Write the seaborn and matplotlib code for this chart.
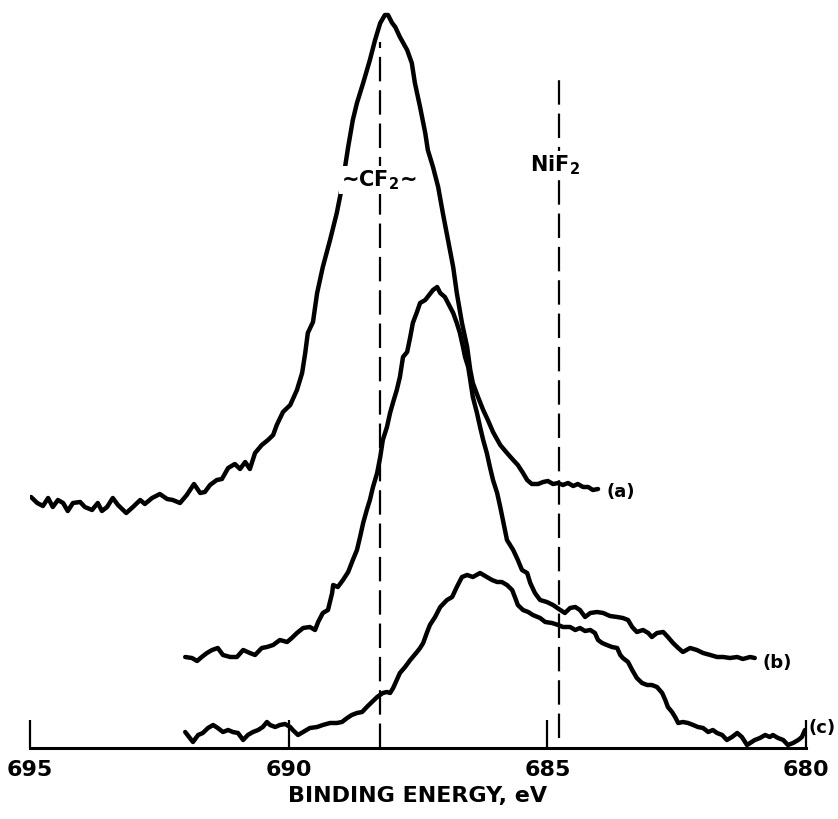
import matplotlib
matplotlib.use("Agg")
import matplotlib.pyplot as plt
import seaborn as sns
import pandas as pd

# ---- data (binding energy in eV, intensity in arbitrary units) ----
a_ev = [694.98, 694.86, 694.75, 694.65, 694.56, 694.46, 694.36, 694.27, 694.17, 694.03,
        693.94, 693.80, 693.69, 693.61, 693.51, 693.40, 693.30, 693.14, 693.01, 692.87,
        692.78, 692.64, 692.49, 692.35, 692.24, 692.10, 691.97, 691.83, 691.71, 691.62,
        691.52, 691.39, 691.29, 691.17, 691.04, 690.94, 690.84, 690.75, 690.65, 690.52,
        690.40, 690.30, 690.23, 690.11, 689.97, 689.84, 689.74, 689.68, 689.63, 689.53,
        689.45, 689.34, 689.20, 689.07, 688.97, 688.91, 688.85, 688.76, 688.68, 688.56,
        688.43, 688.33, 688.23, 688.14, 688.08, 688.00, 687.94, 687.85, 687.71, 687.62,
        687.56, 687.46, 687.36, 687.31, 687.21, 687.11, 687.02, 686.92, 686.82, 686.75,
        686.65, 686.55, 686.49, 686.44, 686.34, 686.24, 686.15, 686.05, 685.91, 685.78,
        685.66, 685.57, 685.47, 685.39, 685.30, 685.18, 685.08, 684.99, 684.89, 684.79,
        684.70, 684.60, 684.50, 684.41, 684.31, 684.21, 684.12, 684.02]
a_int = [251, 245, 242, 250, 241, 248, 245, 237, 245, 246,
         241, 238, 245, 237, 241, 250, 243, 235, 241, 248,
         244, 250, 254, 249, 248, 245, 253, 264, 255, 256,
         263, 268, 269, 280, 284, 279, 286, 279, 295, 303,
         308, 313, 323, 336, 343, 358, 375, 395, 415, 426,
         455, 481, 508, 535, 561, 581, 601, 628, 645, 665,
         688, 708, 725, 733, 733, 725, 721, 711, 698, 685,
         665, 641, 615, 598, 581, 561, 535, 508, 481, 455,
         425, 401, 378, 365, 351, 338, 328, 316, 303, 295,
         288, 283, 275, 268, 264, 264, 266, 267, 264, 265,
         263, 265, 262, 264, 261, 261, 258, 259]

b_ev = [692.00, 691.87, 691.77, 691.68, 691.58, 691.48, 691.37, 691.27, 691.13, 691.00,
        690.88, 690.75, 690.65, 690.52, 690.42, 690.30, 690.17, 690.03, 689.94, 689.84,
        689.72, 689.59, 689.49, 689.43, 689.34, 689.24, 689.16, 689.14, 689.05, 688.95,
        688.85, 688.76, 688.68, 688.62, 688.56, 688.49, 688.43, 688.37, 688.29, 688.23,
        688.18, 688.10, 688.04, 687.98, 687.91, 687.85, 687.79, 687.71, 687.65, 687.60,
        687.52, 687.46, 687.36, 687.21, 687.13, 687.07, 686.98, 686.88, 686.82, 686.75,
        686.69, 686.63, 686.59, 686.53, 686.49, 686.44, 686.36, 686.30, 686.24, 686.17,
        686.11, 686.05, 685.97, 685.91, 685.78, 685.66, 685.57, 685.49, 685.39, 685.33,
        685.24, 685.14, 685.01, 684.89, 684.75, 684.66, 684.56, 684.46, 684.37, 684.27,
        684.17, 684.04, 683.92, 683.79, 683.65, 683.54, 683.44, 683.36, 683.27, 683.15,
        683.05, 682.98, 682.88, 682.76, 682.67, 682.57, 682.47, 682.38, 682.24, 682.11,
        681.99, 681.85, 681.72, 681.60, 681.47, 681.33, 681.22, 681.08, 680.99]
b_int = [91, 90, 87, 91, 95, 98, 100, 93, 91, 91,
         98, 95, 93, 100, 101, 103, 108, 106, 110, 115,
         120, 121, 118, 126, 135, 138, 155, 163, 161, 168,
         176, 188, 198, 211, 225, 238, 248, 261, 275, 291,
         308, 321, 335, 346, 358, 371, 391, 396, 411, 425,
         436, 445, 448, 458, 461, 455, 451, 441, 435, 425,
         415, 401, 391, 381, 368, 351, 335, 321, 308, 295,
         281, 268, 255, 241, 208, 198, 188, 178, 175, 165,
         155, 148, 146, 143, 138, 135, 140, 141, 138, 131,
         135, 136, 135, 132, 131, 130, 128, 121, 116, 118,
         115, 111, 115, 116, 111, 105, 100, 96, 100, 98,
         95, 93, 91, 91, 90, 91, 89, 91, 90]

c_ev = [692.00, 691.91, 691.85, 691.75, 691.66, 691.56, 691.46, 691.37, 691.27, 691.17,
        691.08, 690.98, 690.88, 690.79, 690.69, 690.59, 690.50, 690.42, 690.36, 690.26,
        690.17, 690.07, 689.97, 689.92, 689.82, 689.72, 689.59, 689.45, 689.34, 689.20,
        689.07, 688.97, 688.87, 688.78, 688.68, 688.58, 688.49, 688.39, 688.29, 688.18,
        688.10, 688.04, 687.98, 687.91, 687.85, 687.75, 687.65, 687.52, 687.46, 687.40,
        687.33, 687.27, 687.17, 687.07, 686.94, 686.84, 686.75, 686.65, 686.55, 686.44,
        686.30, 686.17, 686.07, 685.97, 685.88, 685.78, 685.68, 685.62, 685.57, 685.47,
        685.37, 685.28, 685.14, 685.04, 684.91, 684.79, 684.70, 684.56, 684.46, 684.37,
        684.27, 684.17, 684.08, 684.02, 683.94, 683.85, 683.75, 683.65, 683.59, 683.54,
        683.44, 683.36, 683.27, 683.17, 683.07, 682.98, 682.88, 682.78, 682.72, 682.67,
        682.59, 682.53, 682.47, 682.38, 682.28, 682.18, 682.09, 681.99, 681.89, 681.80,
        681.72, 681.62, 681.53, 681.43, 681.33, 681.24, 681.14, 681.08, 680.99, 680.89,
        680.79, 680.70, 680.64, 680.54, 680.44, 680.35, 680.25, 680.15, 680.08, 680.02]
c_int = [16, 10, 6, 13, 15, 20, 23, 20, 16, 18,
         16, 15, 8, 13, 16, 18, 21, 26, 23, 21,
         23, 24, 21, 18, 13, 16, 20, 21, 23, 25,
         25, 26, 30, 33, 35, 36, 41, 46, 51, 55,
         56, 55, 60, 68, 75, 81, 88, 96, 100, 105,
         115, 123, 131, 141, 148, 151, 161, 171, 173, 171,
         175, 171, 168, 166, 166, 163, 158, 150, 143, 138,
         136, 133, 130, 126, 125, 123, 121, 121, 118, 120,
         117, 118, 115, 108, 105, 103, 101, 100, 93, 90,
         86, 78, 70, 65, 63, 63, 61, 55, 48, 41,
         36, 31, 25, 26, 25, 23, 21, 20, 16, 18,
         15, 13, 8, 11, 15, 11, 3, 5, 8, 10,
         13, 11, 13, 10, 8, 3, 5, 8, 11, 18]

spectrum_labels = ["(a)", "(b)", "(c)"]
ref_lines_ev = [688.23, 684.77]
ref_labels = ["~CF$_2$~", "NiF$_2$"]
x_ticks = [695, 690, 685, 680]
x_label = "BINDING ENERGY, eV"

# ---- figure ----
sns.set_style("white")
plt.rcParams["font.family"] = ["Liberation Sans Narrow", "DejaVu Sans"]
plt.rcParams["mathtext.default"] = "regular"
plt.rcParams["text.color"] = "black"
plt.rcParams["axes.labelcolor"] = "black"

fig = plt.figure(figsize=(8.38, 8.19), dpi=100)
ax = fig.add_axes([30 / 838, 71 / 819, 776 / 838, 748 / 819])

frames = []
for lab, xs, ys in zip(spectrum_labels, [a_ev, b_ev, c_ev], [a_int, b_int, c_int]):
    frames.append(pd.DataFrame({"ev": xs, "intensity": ys, "spectrum": lab}))
df = pd.concat(frames, ignore_index=True)

for lab in spectrum_labels:
    sub = df[df["spectrum"] == lab]
    sns.lineplot(data=sub, x="ev", y="intensity", sort=False, estimator=None,
                 color="black", linewidth=3.2, ax=ax, legend=False,
                 solid_joinstyle="round", solid_capstyle="round")

# reference dashed lines
ax.vlines(ref_lines_ev[0], 0, 706, colors="black", linewidth=1.6,
          linestyles=(0, (11, 4)))
ax.vlines(ref_lines_ev[1], 10, 671, colors="black", linewidth=1.6,
          linestyles=(0, (11, 4)))

txt_kw = dict(fontsize=15, fontweight="bold", color="black")
ax.text(ref_lines_ev[0] + 0.02, 568, ref_labels[0], ha="center", va="center",
        bbox=dict(facecolor="white", edgecolor="none", pad=1.5), **txt_kw)
ax.text(ref_lines_ev[1] + 0.08, 583, ref_labels[1], ha="center", va="center",
        bbox=dict(facecolor="white", edgecolor="none", pad=1.5), **txt_kw)

# spectrum labels
lab_kw = dict(fontsize=13, fontweight="bold", color="black")
ax.text(683.85, 256, spectrum_labels[0], ha="left", va="center", **lab_kw)
ax.text(680.85, 85, spectrum_labels[1], ha="left", va="center", **lab_kw)
ax.text(679.95, 20, spectrum_labels[2], ha="left", va="center", clip_on=False, **lab_kw)

ax.set_xlim(695, 680)
ax.set_ylim(0, 748)
ax.set_xticks(x_ticks)
ax.set_xticklabels([str(t) for t in x_ticks])
ax.set_yticks([])
ax.set_xlabel(x_label, fontsize=16, fontweight="bold", labelpad=4, color="black")
ax.set_ylabel("")
for s in ["top", "left", "right"]:
    ax.spines[s].set_visible(False)
ax.spines["bottom"].set_linewidth(2.2)
ax.spines["bottom"].set_color("black")
ax.tick_params(axis="x", direction="in", length=20, width=1.6, pad=9,
               labelsize=16, colors="black", bottom=True)
for t in ax.get_xticklabels():
    t.set_fontweight("bold")
ax.patch.set_alpha(0)

fig.savefig("out.png", dpi=100)
